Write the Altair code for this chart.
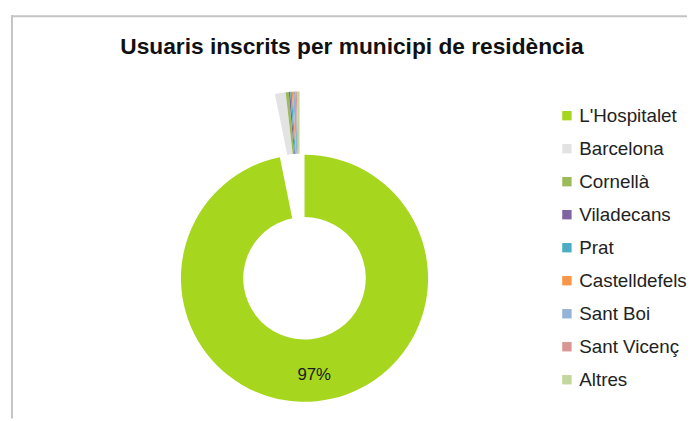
import altair as alt
import pandas as pd

title_text = "Usuaris inscrits per municipi de residència"
categories = ["L'Hospitalet", "Barcelona", "Cornellà", "Viladecans", "Prat",
              "Castelldefels", "Sant Boi", "Sant Vicenç", "Altres"]
values = [96.8, 1.4, 0.4, 0.2, 0.2, 0.15, 0.35, 0.15, 0.35]
colors = ["#A6D61E", "#E3E3E3", "#9BBB59", "#8064A2", "#4BACC6",
          "#F79646", "#95B3D7", "#D99694", "#C3D69B"]

df = pd.DataFrame({"municipi": categories, "valor": values, "ordre": list(range(len(categories)))})

W, H = 687, 413
CX, CY = 300, 271
R_IN, R_OUT = 62, 125
EX_DX, EX_DY = -5, -64

theta_scale = alt.Scale(domain=[0, sum(values)])
color_scale = alt.Scale(domain=categories, range=colors)

base = (
    alt.Chart(df)
    .transform_joinaggregate(total="sum(valor)")
    .transform_stack(stack="valor", groupby=[], as_=["t0", "t1"],
                     sort=[alt.SortField("ordre", order="ascending")])
)

legend = alt.Legend(
    title=None, orient="none", legendX=556, legendY=97,
    symbolType="square", symbolSize=90, symbolStrokeWidth=0,
    labelFont="Liberation Sans", labelFontSize=19, labelColor="#222222",
    rowPadding=13.4, labelOffset=3, padding=0,
)

main = base.transform_filter(alt.datum.ordre == 0).mark_arc(
    innerRadius=R_IN, outerRadius=R_OUT
).encode(
    theta=alt.Theta("t0:Q", scale=theta_scale),
    theta2="t1:Q",
    color=alt.Color("municipi:N", scale=color_scale, legend=legend),
    x=alt.value(CX), y=alt.value(CY),
)

exploded = base.transform_filter(alt.datum.ordre > 0).mark_arc(
    innerRadius=R_IN, outerRadius=R_OUT
).encode(
    theta=alt.Theta("t0:Q", scale=theta_scale),
    theta2="t1:Q",
    color=alt.Color("municipi:N", scale=color_scale, legend=legend),
    x=alt.value(CX + EX_DX), y=alt.value(CY + EX_DY),
)

label = base.transform_filter(alt.datum.ordre == 0).transform_calculate(
    tm="(datum.t0 + datum.t1) / 2",
    label="format(datum.valor / datum.total, '.0%')",
).mark_text(
    radius=98, fontSize=17, font="Liberation Sans", color="#1a1a1a",
    align="center", baseline="middle",
).encode(
    theta=alt.Theta("tm:Q", scale=theta_scale),
    text="label:N",
    x=alt.value(CX), y=alt.value(CY),
)

title = alt.Chart(pd.DataFrame({"t": [title_text]})).mark_text(
    fontSize=23, fontWeight="bold", font="Liberation Sans", color="#111111",
    align="center", baseline="alphabetic",
).encode(text="t:N", x=alt.value(348), y=alt.value(44))

frame = pd.DataFrame({"a": [0]})
top_rule = alt.Chart(frame).mark_rule(color="#C4C4C4", strokeWidth=2).encode(
    x=alt.value(3), x2=alt.value(W), y=alt.value(6))
left_rule = alt.Chart(frame).mark_rule(color="#C4C4C4", strokeWidth=2).encode(
    x=alt.value(4), y=alt.value(5), y2=alt.value(H))

chart = alt.layer(top_rule, left_rule, main, exploded, label, title).properties(
    width=W, height=H,
    autosize=alt.AutoSizeParams(type="none"),
    padding=0,
    background="white",
).configure_view(stroke=None)

chart.save("out.html", embed_options={"renderer": "svg", "actions": False})
